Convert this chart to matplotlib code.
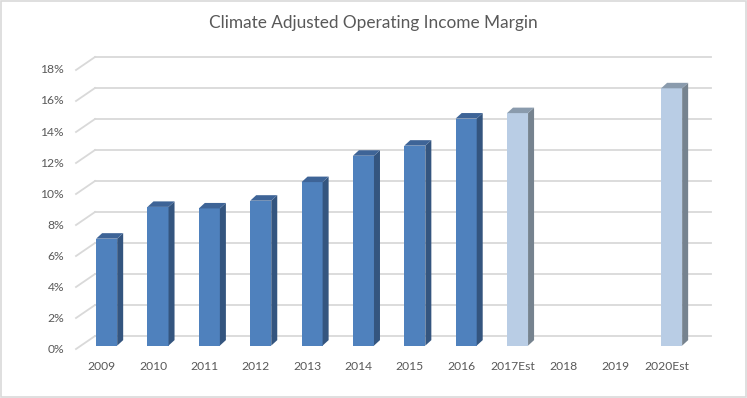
import numpy as np
from matplotlib import pyplot as plt
from matplotlib.patches import Polygon, Rectangle

# values (percent), gaps where no bar is drawn
categories = ["2009", "2010", "2011", "2012", "2013", "2014", "2015", "2016",
              "2017Est", "2018", "2019", "2020Est"]
margin = [6.9, 8.95, 8.85, 9.35, 10.55, 12.25, 12.9, 14.65, 15.0, np.nan, np.nan, 16.6]
is_estimate = [False] * 8 + [True] * 4
y_ticks = list(range(0, 20, 2))
title = "Climate Adjusted Operating Income Margin"

plt.rcParams['font.family'] = ['Lato', 'DejaVu Sans']

fig = plt.figure(figsize=(7.47, 3.98), dpi=100)
ax = fig.add_axes([0, 0, 1, 1])
ax.set_xlim(-1.980, 12.564)
ax.set_ylim(-3.161, 22.516)
ax.axis("off")

# fake 3d: offset of the back wall and of a bar's depth, in data units
wall_dx, wall_dy = 0.37, 0.839
bar_d = 0.26
side_dx, side_dy = 0.117, 0.355
bar_w = 0.41
grid_col = "#D9D9D9"
text_col = "#595959"

left, right = -0.5, len(categories) - 0.5
for v in y_ticks:
    ax.plot([left + wall_dx, right + wall_dx], [v + wall_dy, v + wall_dy],
            color=grid_col, lw=1.3, zorder=1)
    ax.plot([left, left + wall_dx], [v, v + wall_dy], color=grid_col, lw=1.3, zorder=1)
    ax.text(-0.734, v, "{}%".format(v), ha="right", va="center",
            fontsize=8.7, color=text_col)

for i, (val, est) in enumerate(zip(margin, is_estimate)):
    ax.text(i, -1.097, categories[i], ha="center", va="center", fontsize=8.7, color=text_col)
    if np.isnan(val):
        continue
    if est:
        front, top, side = "#B9CDE5", "#8A9BAD", "#76838F"
    else:
        front, top, side = "#4F81BD", "#3E6497", "#34557F"
    xc = i + bar_d * wall_dx
    base = bar_d * wall_dy
    xl, xr = xc - bar_w / 2, xc + bar_w / 2
    ax.bar(xc, val, width=bar_w, bottom=base, color=front, zorder=3)
    ax.add_patch(Polygon([(xr, base), (xr + side_dx, base + side_dy),
                          (xr + side_dx, base + val + side_dy), (xr, base + val)],
                         closed=True, facecolor=side, edgecolor="none", zorder=3))
    ax.add_patch(Polygon([(xl, base + val), (xr, base + val),
                          (xr + side_dx, base + val + side_dy), (xl + side_dx, base + val + side_dy)],
                         closed=True, facecolor=top, edgecolor="none", zorder=3))

fig.text(0.4993, 0.942, title, ha="center", va="center", fontsize=12.4, color=text_col)

# thin chart border
fig.patches.append(Rectangle((0.001, 0.002), 0.997, 0.996, transform=fig.transFigure,
                             fill=False, edgecolor=grid_col, lw=1.2))

fig.savefig("out.png", dpi=100)
